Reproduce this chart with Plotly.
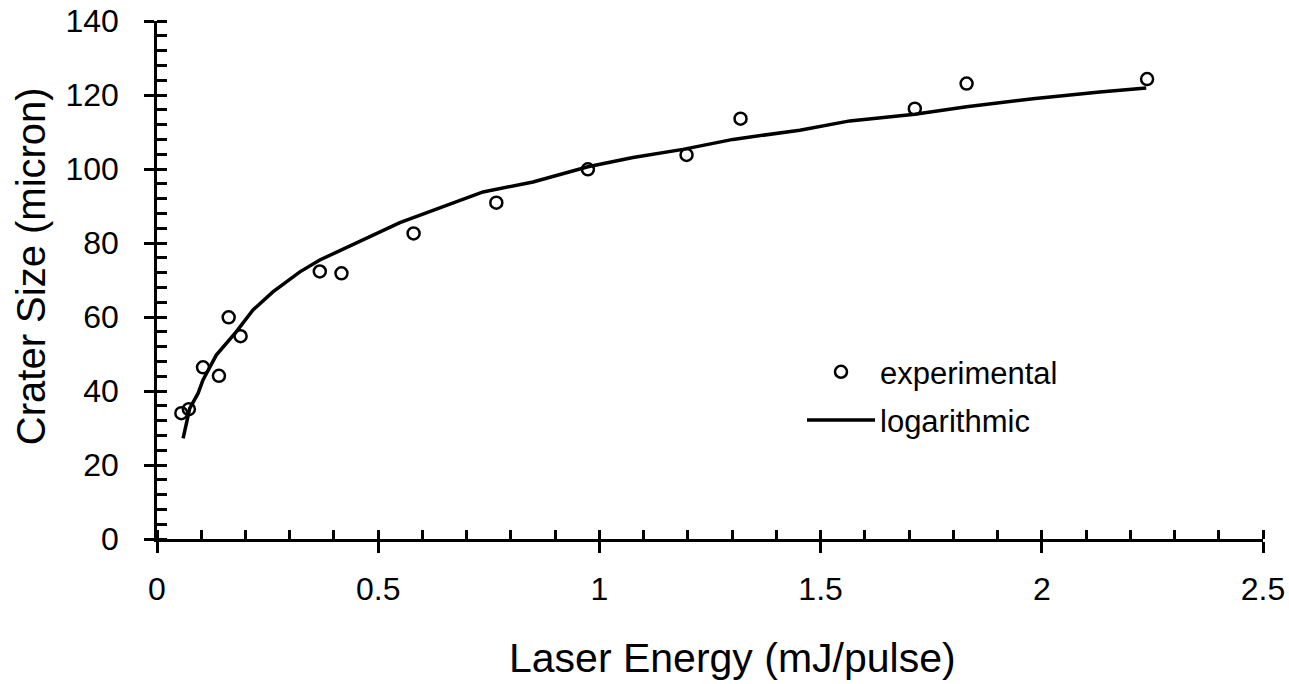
import plotly.graph_objects as go

exp_energy = [0.055, 0.072, 0.104, 0.140, 0.162, 0.189, 0.368, 0.417, 0.580, 0.767,
              0.974, 1.197, 1.319, 1.713, 1.830, 2.238]
exp_crater = [34.0, 35.1, 46.4, 44.1, 59.9, 54.8, 72.3, 71.8, 82.6, 90.9,
              99.9, 103.8, 113.6, 116.3, 123.1, 124.3]

# Logarithmic trend line
fit_energy = [0.059, 0.074, 0.093, 0.104, 0.134, 0.179, 0.217, 0.262, 0.323, 0.368,
              0.549, 0.624, 0.737, 0.850, 0.974, 1.076, 1.189, 1.302, 1.453, 1.566,
              1.713, 1.830, 1.980, 2.131, 2.236]
fit_crater = [27.2, 35.3, 39.4, 43.0, 49.7, 56.0, 61.9, 66.8, 72.2, 75.4,
              85.5, 88.9, 93.8, 96.5, 100.6, 103.1, 105.3, 108.0, 110.5, 113.0,
              114.8, 116.8, 119.0, 120.8, 121.9]

x_title = "Laser Energy (mJ/pulse)"
y_title = "Crater Size (micron)"

FONT = "Arial, Liberation Sans, Helvetica, sans-serif"

fig = go.Figure()
fig.add_trace(go.Scatter(
    x=exp_energy, y=exp_crater, mode="markers", name="experimental",
    legendgroup="a",
    marker=dict(symbol="circle-open", size=12, color="black",
                line=dict(width=2.5, color="black")),
    cliponaxis=False,
))
fig.add_trace(go.Scatter(
    x=fit_energy, y=fit_crater, mode="lines", name="logarithmic",
    legendgroup="b",
    line=dict(color="black", width=3.5),
    cliponaxis=False,
))

axis_common = dict(showgrid=False, zeroline=False, color="black", automargin=False)

fig.update_layout(
    width=1289, height=684,
    margin=dict(l=157, r=26, t=21, b=145, autoexpand=False),
    paper_bgcolor="white", plot_bgcolor="white",
    font=dict(family=FONT, size=31, color="black"),
    showlegend=True,
    legend=dict(x=(802 - 157) / 1106, y=(539 - 345) / 518.3,
                xanchor="left", yanchor="top",
                bgcolor="rgba(0,0,0,0)", font=dict(size=31),
                itemwidth=68, tracegroupgap=5, traceorder="grouped"),
    xaxis=dict(range=[0, 2.5], tick0=0, dtick=0.5, ticks="outside", ticklen=11,
               tickwidth=2.5, tickcolor="black", showline=True, linewidth=2.5,
               linecolor="black", tickfont=dict(size=32), ticklabelstandoff=9,
               minor=dict(ticks="inside", ticklen=9, dtick=0.1, tick0=0,
                          tickwidth=2.5, tickcolor="black", showgrid=False),
               **axis_common),
    yaxis=dict(range=[0, 140], tick0=0, dtick=20, ticks="outside", ticklen=10,
               tickwidth=2.5, tickcolor="black", showline=True, linewidth=2.5,
               linecolor="black", tickfont=dict(size=32), ticklabelstandoff=19,
               minor=dict(ticks="inside", ticklen=10, dtick=4, tick0=0,
                          tickwidth=2.5, tickcolor="black", showgrid=False),
               **axis_common),
    xaxis2=dict(overlaying="x", anchor="y", side="bottom", range=[0, 2.5],
                tick0=0, dtick=0.5, ticks="inside", ticklen=10, tickwidth=2.5,
                tickcolor="black", showticklabels=False, showline=False,
                **axis_common),
    yaxis2=dict(overlaying="y", anchor="x", side="left", range=[0, 140],
                tick0=0, dtick=20, ticks="inside", ticklen=9, tickwidth=2.5,
                tickcolor="black", showticklabels=False, showline=False,
                **axis_common),
    annotations=[
        dict(text=x_title, xref="paper", yref="paper",
             x=(732 - 157) / 1106, y=(539 - 658) / 518.3,
             xanchor="center", yanchor="middle", showarrow=False,
             font=dict(size=41, family=FONT)),
        dict(text=y_title, xref="paper", yref="paper",
             x=(31 - 157) / 1106, y=(539 - 266) / 518.3,
             xanchor="center", yanchor="middle", showarrow=False, textangle=-90,
             font=dict(size=40, family=FONT)),
    ],
)

fig.write_html("out.html")
